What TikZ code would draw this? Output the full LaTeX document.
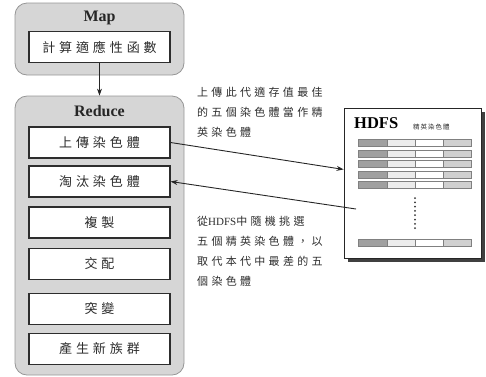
\documentclass[tikz,border=0pt]{standalone}
\usepackage{fontspec}
\setmainfont{Liberation Serif}
\newfontfamily\cjk[LetterSpace=30]{Noto Sans CJK TC}
\newfontfamily\cjktight[LetterSpace=15]{Noto Sans CJK TC}
\usetikzlibrary{arrows.meta,calc}
\definecolor{panelgray}{RGB}{214,214,214}
\definecolor{panelline}{RGB}{150,150,150}
\definecolor{inkgray}{RGB}{45,45,45}
\definecolor{celldark}{RGB}{160,160,160}
\definecolor{celllight}{RGB}{236,236,236}
\definecolor{cellmid}{RGB}{208,208,208}
\tikzset{
  panel/.style={draw=panelline, fill=panelgray, rounded corners=12pt, line width=0.8pt, minimum width=169pt, inner sep=0pt},
  stepbox/.style={draw=inkgray, fill=white, line width=1.2pt, minimum width=141pt, minimum height=31pt, inner sep=0pt, font=\cjk\fontsize{13}{13}\selectfont, text=inkgray},
  title/.style={font=\bfseries\fontsize{16}{16}\selectfont, text=black!85},
  note/.style={align=left, anchor=north west, font=\cjk\fontsize{11}{20}\selectfont, text=inkgray, inner sep=0pt},
  link/.style={-{Stealth[length=7pt,width=5pt]}, line width=0.9pt, black!85},
}

\begin{document}
\begin{tikzpicture}[x=1pt,y=-1pt]
	%%%%% START %%%%%
	\useasboundingbox (0,0) rectangle (486,376);
	
	% map side
	\node[panel, minimum height=72pt] (map) at (99.5,39) {};
	\node[title] (maptitle) at (99.5,18) {Map};
	\node[stepbox] (fitness) at (99.5,47) {計算適應性函數};
	
	% reduce side
	\node[panel, minimum height=279pt] (reduce) at (99.5,235.5) {};
	\node[title] (reducetitle) at (99.5,111) {Reduce};
	\node[stepbox] (upload) at (99.5,142.5) {上傳染色體};
	\node[stepbox] (drop) at (99.5,181.5) {淘汰染色體};
	\node[stepbox] (copy) at (99.5,222.5) {複製};
	\node[stepbox] (cross) at (99.5,264) {交配};
	\node[stepbox] (mutate) at (99.5,309) {突變};
	\node[stepbox] (newpop) at (99.5,349) {產生新族群};
	
	\draw[link] (fitness.south) -- (reduce.north);
	
	% hdfs store
	\fill[black!75] (348,112) rectangle (485,262);
	\node[draw=black!85, fill=white, line width=0.8pt, minimum width=137pt, minimum height=150pt, inner sep=0pt] (hdfs) at (412.5,183) {};
	\node[anchor=west, inner sep=0pt, font=\bfseries\fontsize{16.5}{16.5}\selectfont] (hdfstitle) at (354,123) {HDFS};
	\node[anchor=west, inner sep=0pt, font=\cjktight\fontsize{6.5}{6.5}\selectfont, text=inkgray] (elite) at (413,127) {精英染色體};
	
	\foreach \y in {143,153.5,164,174.5,185,243}{
		\draw[black!50, fill=celldark] (358,\y-3.5) rectangle (387,\y+3.5);
		\draw[black!50, fill=celllight] (387,\y-3.5) rectangle (415,\y+3.5);
		\draw[black!50, fill=white] (415,\y-3.5) rectangle (443,\y+3.5);
		\draw[black!50, fill=cellmid] (443,\y-3.5) rectangle (471,\y+3.5);
	}
	\foreach \y in {0,...,7}
		\fill[black!80] (415,198+\y*4.3) circle (1pt);
	
	% links between reduce and hdfs
	\coordinate (hdfsout) at (356,209);
	\draw[link] (upload.east) -- ($(hdfs.north west)!0.41!(hdfs.south west)$);
	\draw[link] (hdfsout) -- (drop.east);
	
	\node[note] (uploadnote) at (197,87) {上傳此代適存值最佳\\的五個染色體當作精\\英染色體};
	\node[note] (dropnote) at (197,216) {從{\normalfont\addfontfeature{LetterSpace=0}HDFS}中隨機挑選\\五個精英染色體，以\\取代本代中最差的五\\個染色體};
	%%%%% END %%%%%
\end{tikzpicture}
\end{document}
